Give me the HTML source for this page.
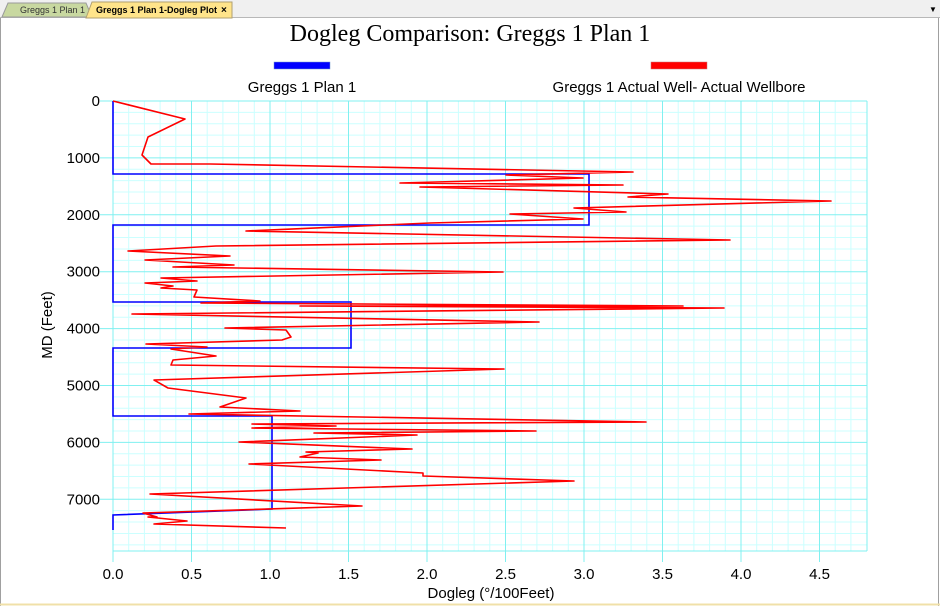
<!DOCTYPE html>
<html><head><meta charset="utf-8"><style>
html,body{margin:0;padding:0;width:940px;height:606px;overflow:hidden;background:#fff;font-family:"Liberation Sans",sans-serif}
</style></head><body>
<svg id="s" width="940" height="606" xmlns="http://www.w3.org/2000/svg" style="position:absolute;left:0;top:0">
<rect x="0" y="0" width="940" height="18" fill="#f0f0f0"/>
<line x1="0" y1="17.5" x2="940" y2="17.5" stroke="#b8b8b8"/>
<path d="M2,17 L8,3 L86,3 L92,17Z" fill="#c8d8a0" stroke="#9a9a9a"/>
<text x="20" y="13" font-size="9" fill="#333">Greggs 1 Plan 1</text>
<path d="M86,18 L92,2 L232,2 L232,18Z" fill="#ffe48a" stroke="#b0a070"/>
<text x="96" y="13" font-size="9" font-weight="bold" fill="#000">Greggs 1 Plan 1-Dogleg Plot</text>
<text x="221" y="13" font-size="10" font-weight="bold" fill="#000">×</text>
<text x="929" y="12" font-size="8" fill="#000">▼</text>
<line x1="0.5" y1="18" x2="0.5" y2="606" stroke="#a0a0a0"/>
<line x1="938.5" y1="18" x2="938.5" y2="606" stroke="#a0a0a0"/>
<line x1="0" y1="604.5" x2="940" y2="604.5" stroke="#f0e0a8" stroke-width="2"/>
<g id="grid"></g>
<text x="470" y="41" font-family="Liberation Serif,serif" font-size="24" text-anchor="middle">Dogleg Comparison: Greggs 1 Plan 1</text>
<rect x="274" y="62" width="56" height="7" fill="#0000ff" stroke="#7799cc" stroke-width="0.5"/>
<rect x="651" y="62" width="56" height="7" fill="#ff0000" stroke="#cc7777" stroke-width="0.5"/>
<text x="302" y="92" font-size="15" text-anchor="middle">Greggs 1 Plan 1</text>
<text x="679" y="92" font-size="15" text-anchor="middle">Greggs 1 Actual Well- Actual Wellbore</text>
<polyline fill="none" stroke="#0000ff" stroke-width="1.6" points="113,101 113,174 589,174 589,225 113,225 113,302 351,302 351,348 113,348 113,416 272,416 272,509 113,515 113,530"/>
<polyline fill="none" stroke="#ff0000" stroke-width="1.6" stroke-linejoin="round" points="113,101 185,119 148,137 142,155 151,164 210,164 633,172 506,175 583,178 400,183 623,185 420,187 668,194 628,197 831,201 574,208 626,212 510,214 583,219 430,223 246,231 730,240 216,246 128,251 230,256 145,260 234,265 173,267 503,272 161,278 197,281 145,283 173,286 161,288 197,290 194,297 260,301 201,303 683,306 300,306 724,308 132,314 539,322 225,328 286,330 291,337 282,340 146,344 207,347 171,349 216,356 173,360 171,365 504,369 154,380 168,388 246,398 220,407 300,411 189,414 646,422 252,424 336,426 252,428 536,431 314,433 417,435 239,442 412,449 306,452 318,453 300,457 381,460 249,464 423,473 423,476 574,481 150,494 362,506 143,513 157,517 148,517 187,521 154,524 286,528"/>
<g font-size="15" text-anchor="end" id="yl"></g>
<g font-size="15" text-anchor="middle" id="xl"></g>
<text x="491" y="598" font-size="15" text-anchor="middle">Dogleg (°/100Feet)</text>
<text x="0" y="0" font-size="15" text-anchor="middle" transform="translate(52,325) rotate(-90)">MD (Feet)</text>
</svg>
<script>
var NS="http://www.w3.org/2000/svg",g=document.getElementById('grid');
function L(x1,y1,x2,y2,c){var l=document.createElementNS(NS,'line');l.setAttribute('x1',x1);l.setAttribute('y1',y1);l.setAttribute('x2',x2);l.setAttribute('y2',y2);l.setAttribute('stroke',c);l.setAttribute('stroke-width',1);g.appendChild(l);}
function T(id,x,y,s){var t=document.createElementNS(NS,'text');t.setAttribute('x',x);t.setAttribute('y',y);t.textContent=s;document.getElementById(id).appendChild(t);}
var x0=113,sx=157,y0=101,sy=0.0569,xr=867,yb=551;
for(var i=1;i<48;i++){var x=x0+i*sx/10;if(i%5)L(x,y0,x,yb,'#ccffff');}
for(var v=200;v<7900;v+=200){if(v%1000){var y=y0+v*sy;L(x0,y,xr,y,'#ccffff');}}
for(var i=0;i<=9;i++){var x=x0+i*sx/2;L(x,y0,x,562,'#80f0f0');T('xl',x,579,(i/2).toFixed(1));}
for(var v=0;v<=7000;v+=1000){var y=y0+v*sy;L(100,y,xr,y,'#80f0f0');T('yl',100,y+5,String(v));}
L(xr,y0,xr,yb,'#80f0f0');L(x0,yb,xr,yb,'#80f0f0');L(x0,y0,x0,yb,'#80f0f0');
</script>
</body></html>
